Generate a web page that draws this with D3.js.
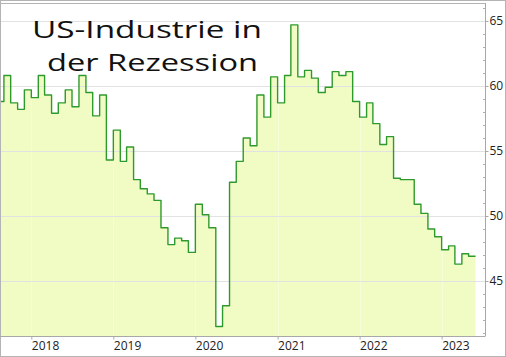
<!DOCTYPE html>
<html>
<head>
<meta charset="utf-8">
<script src="https://cdn.jsdelivr.net/npm/d3@7/dist/d3.min.js"></script>
<style>
  html, body { margin: 0; padding: 0; background: #fff; }
  svg { display: block; }
  text { font-family: "Open Sans", "Noto Sans", sans-serif; }
</style>
</head>
<body>
<svg id="chart" width="506" height="357"></svg>
<script>
// ---- data ----
const titleLines = ["US-Industrie in", "der Rezession"];
const startMonth = "2017-08";
// monthly values, Aug 2017 .. May 2023
const pmi = [
  58.8, 60.8, 58.7, 58.2, 59.7,
  59.1, 60.8, 59.3, 57.9, 58.7, 59.7, 58.4, 60.8, 59.5, 57.7, 59.3, 54.3,
  56.6, 54.2, 55.3, 52.8, 52.1, 51.7, 51.2, 49.1, 47.8, 48.3, 48.1, 47.2,
  50.9, 50.1, 49.1, 41.5, 43.1, 52.6, 54.2, 56.0, 55.4, 59.3, 57.6, 60.7,
  58.7, 60.8, 64.7, 60.7, 61.2, 60.6, 59.5, 59.9, 61.1, 60.8, 61.1, 58.8,
  57.6, 58.7, 57.1, 55.5, 56.1, 52.9, 52.8, 52.8, 50.9, 50.2, 49.0, 48.4,
  47.4, 47.7, 46.3, 47.1, 46.9
];
const yTicks = [45, 50, 55, 60, 65];
const xTickYears = [2018, 2019, 2020, 2021, 2022, 2023];
const xDomain = ["2017-08-19", "2023-07-13"];
const yDomain = [40.77, 66.38];

// ---- layout ----
const W = 506, H = 357;
const plot = { left: 1, right: 485, top: 3, bottom: 336 };

const svg = d3.select("#chart");
const parse = d3.timeParse("%Y-%m-%d");
const parseMonth = d3.timeParse("%Y-%m");

const x = d3.scaleTime().domain(xDomain.map(parse)).range([plot.left, plot.right]);
const y = d3.scaleLinear().domain(yDomain).range([plot.bottom, plot.top]);

const start = parseMonth(startMonth);
const data = pmi.map((v, i) => ({ date: d3.timeMonth.offset(start, i), value: v }));
// end point of the last monthly step
const stepData = data.concat([{ date: d3.timeMonth.offset(start, pmi.length), value: pmi[pmi.length - 1] }]);

// outer border
svg.append("rect").attr("x", 0.5).attr("y", 0.5).attr("width", W - 1).attr("height", H - 1)
  .attr("fill", "#fff").attr("stroke", "#b4b4b4");

svg.append("defs").append("clipPath").attr("id", "clip")
  .append("rect").attr("x", plot.left).attr("y", plot.top)
  .attr("width", plot.right - plot.left).attr("height", plot.bottom - plot.top);

const g = svg.append("g").attr("clip-path", "url(#clip)");

// area fill
g.append("path").datum(stepData)
  .attr("fill", "#f1fcc4")
  .attr("d", d3.area().curve(d3.curveStepAfter)
    .x(d => x(d.date)).y0(plot.bottom).y1(d => y(d.value)));

// vertical faint grid
g.selectAll("line.vg").data(xTickYears).join("line")
  .attr("x1", d => Math.round(x(new Date(d, 0, 1))) + 0.5)
  .attr("x2", d => Math.round(x(new Date(d, 0, 1))) + 0.5)
  .attr("y1", plot.top).attr("y2", plot.bottom)
  .attr("stroke", "#ffffff").attr("stroke-opacity", 0.35);

// horizontal grid
g.selectAll("line.hg").data(yTicks).join("line")
  .attr("x1", plot.left).attr("x2", plot.right)
  .attr("y1", d => Math.round(y(d)) + 0.5).attr("y2", d => Math.round(y(d)) + 0.5)
  .attr("stroke", "#e2e2e2").attr("stroke-width", 1);

// line
g.append("path").datum(stepData)
  .attr("fill", "none").attr("stroke", "#2f9a2c").attr("stroke-width", 1.4)
  .attr("stroke-linejoin", "round")
  .attr("d", d3.line().curve(d3.curveStepAfter).x(d => x(d.date)).y(d => y(d.value)));

// plot frame: top
svg.append("line").attr("x1", plot.left).attr("x2", plot.right + 0.5)
  .attr("y1", plot.top + 0.5).attr("y2", plot.top + 0.5).attr("stroke", "#b4b4b4");

// right axis
const yAxis = d3.axisRight(y).tickValues(yTicks).tickSize(3).tickPadding(1).tickFormat(d3.format("d"));
const ya = svg.append("g").attr("transform", `translate(${plot.right + 0.5},0)`).call(yAxis);
ya.select(".domain").attr("stroke", "#a8a8a8").attr("d", `M0,${plot.top}V${plot.bottom}`);
ya.selectAll(".tick line").attr("stroke", "#a8a8a8");
ya.selectAll(".tick text").attr("font-size", 12).attr("fill", "#222")
  .attr("font-family", "'Open Sans', sans-serif");
// minor ticks
const minor = d3.range(41, 67).filter(v => !yTicks.includes(v));
svg.append("g").selectAll("line").data(minor).join("line")
  .attr("x1", plot.right - 2).attr("x2", plot.right + 0.5)
  .attr("y1", d => Math.round(y(d)) + 0.5).attr("y2", d => Math.round(y(d)) + 0.5)
  .attr("stroke", "#b0b0b0");

// bottom axis
const xAxis = d3.axisBottom(x).tickValues(xTickYears.map(yr => new Date(yr, 0, 1)))
  .tickSize(3).tickFormat(d3.timeFormat("%Y"));
const xa = svg.append("g").attr("transform", `translate(0,${plot.bottom + 0.5})`).call(xAxis);
xa.select(".domain").attr("stroke", "#a8a8a8").attr("d", `M0,0H${plot.right + 0.5}`);
xa.selectAll(".tick line").attr("stroke", "#a8a8a8");
xa.selectAll(".tick text").attr("font-size", 12).attr("fill", "#222")
  .attr("text-anchor", "start").attr("dy", null).attr("y", 13)
  .attr("font-family", "'Open Sans', sans-serif");

// title
const tl = svg.append("g");
tl.append("text").attr("x", 32).attr("y", 38).attr("font-size", 24)
  .attr("fill", "#111")
  .attr("textLength", 230).attr("lengthAdjust", "spacingAndGlyphs")
  .text(titleLines[0]);
tl.append("text").attr("x", 47).attr("y", 71).attr("font-size", 24)
  .attr("fill", "#111")
  .attr("textLength", 211).attr("lengthAdjust", "spacingAndGlyphs")
  .text(titleLines[1]);
</script>
</body>
</html>
